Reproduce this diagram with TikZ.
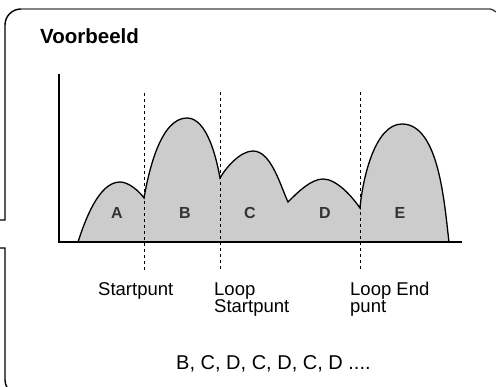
\documentclass[tikz,border=0pt]{standalone}
\usepackage{fontspec}
\setmainfont{Liberation Sans}
\definecolor{hump}{HTML}{CCCCCC}
\definecolor{segtext}{HTML}{333333}
\definecolor{frametop}{HTML}{444444}
\begin{document}
\begin{tikzpicture}[x=1pt,y=1pt,
  lbl/.style={font=\fontsize{18.5}{17}\selectfont, anchor=base west, inner sep=0pt, align=left},
  seg/.style={font=\fontsize{16}{16}\selectfont\bfseries, text=segtext, inner sep=0pt},
  marker/.style={dash pattern=on 3pt off 3pt, line width=0.8pt},
  framepen/.style={line width=1.4pt},
  wave/.style={looseness=0.75}]
\useasboundingbox (0,0) rectangle (496,387);

% frame
\draw[framepen] (0,167) -- (5,167) -- (5,362) arc[start angle=180,end angle=90,radius=16] coordinate (tl);
\draw[framepen, frametop] (tl) -- (490,378) to[out=0,in=150] (496,375);
\draw[framepen] (0,139) -- (5,139) -- (5,7) arc[start angle=180,end angle=240,radius=15];

% coordinates of the wave
\coordinate (p0) at (78,145);
\coordinate (pa) at (120,205);
\coordinate (p1) at (144,189);
\coordinate (pb) at (187,269);
\coordinate (p2) at (220,209);
\coordinate (pc) at (253,236);
\coordinate (p3) at (288,185);
\coordinate (pd) at (323,208);
\coordinate (p4) at (360,179);
\coordinate (pe) at (402,263);
\coordinate (p5) at (449,145);

\fill[hump, wave] (p0) to[out=72,in=180] (pa) to[out=0,in=125] (p1)
  to[out=80,in=180] (pb) to[out=0,in=100] (p2)
  to[out=60,in=180] (pc) to[out=0,in=115] (p3)
  to[out=45,in=180] (pd) to[out=0,in=125] (p4)
  to[out=85,in=180] (pe) to[out=0,in=97] (p5) -- cycle;

% dashed markers
\coordinate (m1t) at (144,294); \coordinate (m1b) at (144,116);
\coordinate (m2t) at (220,295); \coordinate (m2b) at (220,116);
\coordinate (m3t) at (360,295); \coordinate (m3b) at (360,116);
\draw[marker] (m1t) -- (m1b);
\draw[marker] (m2t) -- (m2b);
\draw[marker] (m3t) -- (m3b);

\draw[line width=1.3pt, wave] (p0) to[out=72,in=180] (pa) to[out=0,in=125] (p1)
  to[out=80,in=180] (pb) to[out=0,in=100] (p2)
  to[out=60,in=180] (pc) to[out=0,in=115] (p3)
  to[out=45,in=180] (pd) to[out=0,in=125] (p4)
  to[out=85,in=180] (pe) to[out=0,in=97] (p5);

% axes
\coordinate (ytop) at (59,313);
\coordinate (orig) at (59,145);
\coordinate (xend) at (462,145);
\draw[line width=1.1pt] (ytop) -- (orig) -- (xend);

% segment labels
\node[seg] (la) at (117,174) {A};
\node[seg] (lb) at (185,174) {B};
\node[seg] (lc) at (250,174) {C};
\node[seg] (ld) at (325,174) {D};
\node[seg] (le) at (400,174) {E};

% texts
\node[anchor=base west, inner sep=0pt, font=\fontsize{20.5}{20.5}\selectfont\bfseries] (title) at (40,343) {Voorbeeld};
\node[lbl] (start) at (98,91) {Startpunt};
\node[lbl] (loopstart) at (214,74) {Loop\\Startpunt};
\node[lbl] (loopend) at (350,74) {Loop End\\punt};
\node[anchor=base west, inner sep=0pt, font=\fontsize{20}{20}\selectfont] (seq) at (176,17) {B, C, D, C, D, C, D ....};
\end{tikzpicture}
\end{document}
